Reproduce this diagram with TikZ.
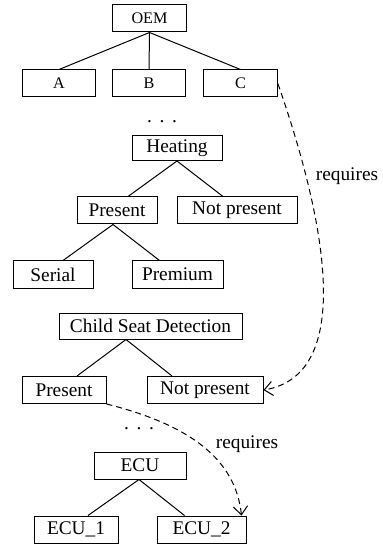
\documentclass[tikz,border=0pt]{standalone}
\usepackage{fontspec}
\setmainfont{Liberation Serif}
\usetikzlibrary{calc,positioning,arrows.meta}

% garis cabang pohon: induk, geser, anak, geser
\newcommand{\cabang}[4]
	{
	\draw ($(#1.south)+(#2,0)$) -- ($(#3.north)+(#4,0)$);
	}

\begin{document}
\begin{tikzpicture}[x=0.6pt,y=-0.6pt,line width=0.6pt,
	kotak/.style={draw,inner sep=0pt,minimum height=16.2pt,font=\fontsize{11.6}{13}\selectfont},
	kecil/.style={kotak,minimum width=44.2pt,font=\fontsize{9.7}{11}\selectfont},
	titik/.style={inner sep=0pt,font=\fontsize{11.6}{13}\selectfont},
	perlu/.style={dash pattern=on 3.6pt off 2.4pt,-{Straight Barb[length=5pt,width=8.5pt]}}]
\useasboundingbox (0,0) rectangle (383,544);

% OEM dan varian
\node[kecil] (oem) at (149.5,18.5) {OEM};
\node[kecil] (A) at (59,83.5) {A};
\node[kecil] (B) at (149,83.5) {B};
\node[kecil] (C) at (240.5,83.5) {C};
\cabang{oem}{0}{A}{0}
\cabang{oem}{0}{B}{0}
\cabang{oem}{0}{C}{0}
\node[titik] (dotsa) at (162,122) {.\kern4.6pt.\kern4.6pt.};

% Heating
\node[kotak,minimum width=54pt,minimum height=15pt] (heat) at (177,148) {Heating};
\node[kotak,minimum width=48pt] (pres) at (117,210.5) {Present};
\node[kotak,minimum width=72pt] (npres) at (237,210.5) {Not present};
\node[kotak,minimum width=48pt] (serial) at (53,274.5) {Serial};
\node[kotak,minimum width=54.6pt] (prem) at (177.5,274.5) {Premium};
\cabang{heat}{0}{pres}{11}
\cabang{heat}{0}{npres}{-14}
\cabang{pres}{-4}{serial}{10}
\cabang{pres}{-4}{prem}{-18}

% Child Seat Detection
\node[kotak,minimum width=109.8pt,minimum height=15.6pt] (csd) at (150.5,326) {Child Seat Detection};
\node[kotak,minimum width=50.4pt] (presb) at (64,390) {Present};
\node[kotak,minimum width=69.6pt] (npresb) at (205,390) {Not present};
\cabang{csd}{-24.5}{presb}{13}
\cabang{csd}{-24.5}{npresb}{-33}
\node[titik] (dotsb) at (139,429) {.\kern4.6pt.\kern4.6pt.};

% ECU
\node[kotak,minimum width=55.2pt] (ecu) at (140,465.5) {ECU};
\node[kotak,minimum width=50.4pt] (ecua) at (76,529.5) {ECU\_1};
\node[kotak,minimum width=53.4pt] (ecub) at (201.5,529.5) {ECU\_2};
\cabang{ecu}{-1}{ecua}{12}
\cabang{ecu}{-1}{ecub}{-17}

% relasi requires
\draw[perlu] (C.east) .. controls +(42,120) and +(97,-16) .. (npresb.east);
\node[titik] (reqa) at (347,176) {requires};
\draw[perlu] (presb.south east) .. controls +(84,21) and +(-6,-56) .. ($(ecub.north east)+(-5,0)$);
\node[titik] (reqb) at (247,444) {requires};

\end{tikzpicture}
\end{document}
